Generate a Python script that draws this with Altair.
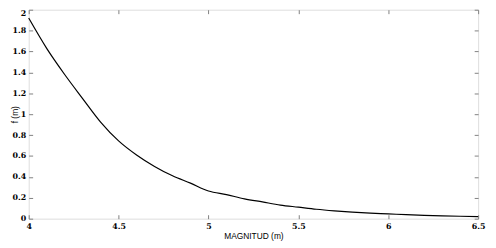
import altair as alt
import pandas as pd

magnitud = [4.0, 4.1, 4.2, 4.3, 4.4, 4.5, 4.6, 4.7, 4.8, 4.9, 5.0,
            5.1, 5.2, 5.3, 5.4, 5.5, 5.6, 5.7, 5.8, 5.9, 6.0,
            6.1, 6.2, 6.3, 6.4, 6.5]
f_vals = [1.92, 1.63, 1.38, 1.15, 0.925, 0.745, 0.61, 0.50, 0.41, 0.34, 0.265,
          0.23, 0.19, 0.16, 0.13, 0.11, 0.09, 0.075, 0.063, 0.053, 0.046,
          0.038, 0.032, 0.027, 0.023, 0.02]
x_ticks = [4, 4.5, 5, 5.5, 6, 6.5]
y_ticks = [0, 0.2, 0.4, 0.6, 0.8, 1, 1.2, 1.4, 1.6, 1.8, 2]

df = pd.DataFrame({"m": magnitud, "f": f_vals})

tick_col = "#808080"
lab_font = "DejaVu Serif"
tit_font = "Liberation Sans"
TS = 4

xs = alt.Scale(domain=[4, 6.5], nice=False)
ys = alt.Scale(domain=[0, 2], nice=False)

main = alt.Chart(df).mark_line(color="black", strokeWidth=1.2, interpolate="monotone").encode(
    x=alt.X("m:Q", scale=xs, title="MAGNITUD (m)",
            axis=alt.Axis(values=x_ticks, format="~g", grid=False, domain=False,
                          ticks=True, tickSize=TS, offset=-TS, tickColor=tick_col,
                          labelPadding=4, labelFont=lab_font, labelFontWeight="bold",
                          labelFontSize=8, labelColor="black",
                          titleFont=tit_font, titleFontSize=8.5, titleFontWeight="normal",
                          titlePadding=1, titleColor="black", labelFlush=False)),
    y=alt.Y("f:Q", scale=ys, title="f (m)",
            axis=alt.Axis(values=y_ticks, format="~g", grid=False, domain=False,
                          ticks=True, tickSize=TS, offset=-TS, tickColor=tick_col,
                          labelPadding=3, labelFont=lab_font, labelFontWeight="bold",
                          labelFontSize=8, labelColor="black",
                          labelBaseline={"condition": {"test": "datum.value == 2", "value": "top"},
                                         "value": "middle"},
                          titleFont=tit_font, titleFontSize=8.5, titleFontWeight="normal",
                          titleX=-13, titleColor="black", labelFlush=False)),
)

mirror = alt.Chart(df).mark_line(opacity=0).encode(
    x=alt.X("m:Q", scale=xs,
            axis=alt.Axis(orient="top", values=x_ticks, labels=False, title=None,
                          grid=False, domain=False, tickSize=TS, offset=-TS,
                          tickColor=tick_col)),
    y=alt.Y("f:Q", scale=ys,
            axis=alt.Axis(orient="right", values=y_ticks, labels=False, title=None,
                          grid=False, domain=False, tickSize=TS, offset=-TS,
                          tickColor=tick_col)),
)

chart = alt.layer(main, mirror).resolve_axis(
    x="independent", y="independent"
).properties(
    width=456, height=212,
    autosize=alt.AutoSizeParams(type="none"),
    padding={"left": 21, "top": 0, "right": 10, "bottom": 27},
).configure_view(stroke=tick_col, strokeWidth=1).configure(background="white")

chart.save("out.html", embed_options={"renderer": "svg", "actions": False})
